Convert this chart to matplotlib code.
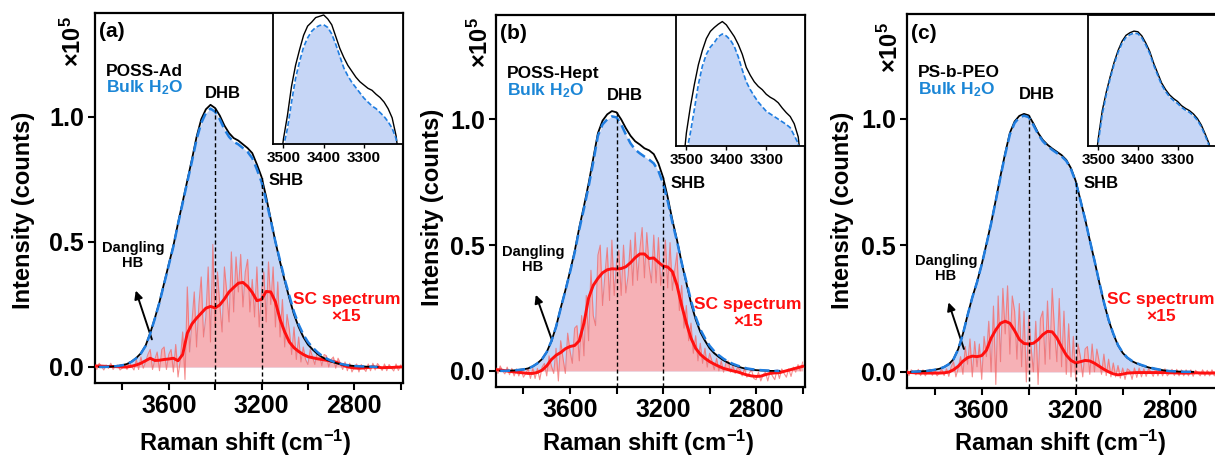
import matplotlib.pyplot as plt
import numpy as np

plt.rcParams["font.family"] = ["Liberation Sans", "DejaVu Sans"]
plt.rcParams["font.weight"] = "bold"
plt.rcParams["axes.labelweight"] = "bold"
plt.rcParams["mathtext.default"] = "regular"

# ---- data ---------------------------------------------------------------
PANEL_TAGS = ["(a)", "(b)", "(c)"]
SAMPLE_NAMES = ["POSS-Ad", "POSS-Hept", "PS-b-PEO"]

# full OH band, sampled every 20 cm-1 from 3900 down to 2700
sample_a = [0.000, 0.000, 0.001, 0.002, 0.004, 0.007, 0.012, 0.022, 0.036, 0.055,
            0.085, 0.135, 0.195, 0.260, 0.335, 0.410, 0.485, 0.575, 0.660, 0.745,
            0.830, 0.920, 0.990, 1.030, 1.048, 1.035, 1.005, 0.965, 0.935, 0.915,
            0.905, 0.890, 0.875, 0.855, 0.810, 0.760, 0.680, 0.590, 0.500, 0.420,
            0.345, 0.275, 0.210, 0.160, 0.120, 0.090, 0.070, 0.053, 0.040, 0.030,
            0.022, 0.016, 0.011, 0.008, 0.006, 0.004, 0.003, 0.002, 0.001, 0.001, 0.000]
bulk_a = [0.000, 0.000, 0.001, 0.002, 0.004, 0.007, 0.012, 0.021, 0.035, 0.054,
          0.084, 0.133, 0.193, 0.258, 0.332, 0.407, 0.482, 0.572, 0.655, 0.740,
          0.822, 0.910, 0.975, 1.015, 1.033, 1.020, 0.990, 0.950, 0.920, 0.900,
          0.890, 0.875, 0.860, 0.835, 0.790, 0.740, 0.665, 0.585, 0.500, 0.425,
          0.350, 0.285, 0.220, 0.170, 0.130, 0.100, 0.078, 0.060, 0.045, 0.034,
          0.025, 0.018, 0.013, 0.009, 0.006, 0.004, 0.003, 0.002, 0.001, 0.001, 0.000]
sample_b = [0.000, 0.000, 0.001, 0.002, 0.004, 0.006, 0.010, 0.018, 0.030, 0.047,
            0.075, 0.118, 0.175, 0.250, 0.320, 0.395, 0.475, 0.570, 0.655, 0.745,
            0.845, 0.945, 0.995, 1.020, 1.033, 1.028, 1.000, 0.965, 0.935, 0.913,
            0.900, 0.885, 0.877, 0.862, 0.825, 0.770, 0.690, 0.600, 0.520, 0.430,
            0.350, 0.270, 0.205, 0.155, 0.120, 0.090, 0.070, 0.055, 0.042, 0.032,
            0.024, 0.018, 0.012, 0.008, 0.005, 0.003, 0.002, 0.001, 0.000, 0.000, 0.000]
bulk_b = [0.000, 0.000, 0.001, 0.002, 0.004, 0.006, 0.010, 0.018, 0.030, 0.047,
          0.075, 0.118, 0.175, 0.248, 0.318, 0.392, 0.470, 0.563, 0.645, 0.733,
          0.830, 0.935, 0.980, 1.000, 1.012, 1.008, 0.980, 0.940, 0.905, 0.880,
          0.865, 0.852, 0.840, 0.825, 0.795, 0.745, 0.675, 0.590, 0.515, 0.430,
          0.355, 0.280, 0.215, 0.165, 0.130, 0.100, 0.078, 0.062, 0.048, 0.037,
          0.028, 0.021, 0.015, 0.010, 0.007, 0.005, 0.003, 0.002, 0.001, 0.000, 0.000]
sample_c = [0.000, 0.001, 0.002, 0.003, 0.005, 0.008, 0.012, 0.019, 0.030, 0.050,
            0.090, 0.150, 0.225, 0.295, 0.355, 0.425, 0.505, 0.588, 0.680, 0.775,
            0.865, 0.945, 0.990, 1.012, 1.020, 1.014, 0.982, 0.945, 0.917, 0.898,
            0.883, 0.870, 0.857, 0.838, 0.805, 0.755, 0.680, 0.605, 0.520, 0.440,
            0.355, 0.275, 0.205, 0.150, 0.105, 0.075, 0.055, 0.042, 0.033, 0.026,
            0.020, 0.015, 0.011, 0.008, 0.005, 0.003, 0.002, 0.001, 0.000, 0.000, 0.000]
bulk_c = [0.000, 0.001, 0.002, 0.003, 0.005, 0.008, 0.012, 0.019, 0.030, 0.050,
          0.089, 0.149, 0.224, 0.294, 0.354, 0.424, 0.503, 0.586, 0.677, 0.771,
          0.860, 0.939, 0.984, 1.006, 1.013, 1.007, 0.976, 0.940, 0.912, 0.893,
          0.878, 0.865, 0.852, 0.834, 0.801, 0.752, 0.678, 0.604, 0.520, 0.440,
          0.356, 0.276, 0.206, 0.151, 0.106, 0.076, 0.056, 0.043, 0.034, 0.027,
          0.021, 0.016, 0.012, 0.008, 0.005, 0.003, 0.002, 0.001, 0.000, 0.000, 0.000]

# smoothed SC spectrum (x15), every 20 cm-1 from 3920 down to 2600
sc_smooth_a = [0.004, 0.004, 0.003, 0.002, 0.002, 0.001, 0.000, 0.000, 0.003, 0.008,
               0.015, 0.025, 0.035, 0.026, 0.027, 0.030, 0.032, 0.035, 0.025, 0.050,
               0.135, 0.172, 0.195, 0.215, 0.235, 0.242, 0.236, 0.248, 0.272, 0.300,
               0.318, 0.335, 0.338, 0.322, 0.298, 0.265, 0.270, 0.302, 0.300, 0.260,
               0.190, 0.140, 0.100, 0.077, 0.062, 0.050, 0.041, 0.037, 0.033, 0.030,
               0.027, 0.023, 0.020, 0.012, 0.004, -0.001, -0.004, -0.005, -0.004, -0.002,
               0.000, -0.001, -0.003, -0.002, -0.002, -0.001, 0.000]
sc_smooth_b = [0.005, 0.004, 0.001, -0.002, -0.004, -0.006, -0.008, -0.010, -0.010, -0.006,
               0.003, 0.020, 0.045, 0.062, 0.073, 0.088, 0.097, 0.101, 0.120, 0.190,
               0.290, 0.340, 0.368, 0.390, 0.402, 0.406, 0.405, 0.407, 0.414, 0.430,
               0.450, 0.465, 0.465, 0.447, 0.449, 0.432, 0.417, 0.413, 0.395, 0.340,
               0.260, 0.190, 0.130, 0.090, 0.066, 0.050, 0.037, 0.027, 0.018, 0.010,
               0.005, 0.000, -0.004, -0.010, -0.016, -0.020, -0.022, -0.021, -0.015, -0.010,
               -0.008, -0.007, -0.002, 0.003, 0.008, 0.013, 0.018]
sc_smooth_c = [-0.003, -0.003, -0.004, -0.005, -0.005, -0.005, -0.005, -0.005, -0.004, -0.001,
               0.008, 0.022, 0.042, 0.056, 0.062, 0.060, 0.064, 0.085, 0.133, 0.166,
               0.192, 0.200, 0.192, 0.163, 0.128, 0.112, 0.110, 0.113, 0.127, 0.147,
               0.160, 0.158, 0.134, 0.098, 0.066, 0.045, 0.035, 0.040, 0.045, 0.043,
               0.034, 0.022, 0.010, 0.000, -0.008, -0.012, -0.009, -0.005, -0.004, -0.003,
               -0.003, -0.003, -0.003, -0.003, -0.003, -0.003, -0.004, -0.004, -0.005, -0.005,
               -0.005, -0.004, -0.004, -0.005, -0.005, -0.005, -0.004]

# raw (noisy) SC spectrum (x15), every 10 cm-1 from 3920 down to 2600
sc_raw_a = [0.010, -0.010, 0.015, 0.002, -0.012, 0.008, -0.006, 0.015, -0.010, 0.004,
            0.008, -0.012, -0.004, 0.012, -0.010, 0.020, 0.002, -0.012, 0.030, -0.010,
            0.040, -0.005, 0.020, 0.050, 0.070, -0.010, 0.030, 0.060, -0.015, 0.070,
            0.080, -0.010, 0.050, 0.070, -0.020, 0.090, -0.040, 0.030, 0.140, -0.050,
            0.320, 0.060, 0.180, 0.300, 0.080, 0.250, 0.360, 0.120, 0.200, 0.400,
            0.100, 0.490, 0.160, 0.380, 0.250, 0.140, 0.400, 0.300, 0.180, 0.460,
            0.220, 0.440, 0.300, 0.450, 0.240, 0.380, 0.430, 0.220, 0.350, 0.200,
            0.400, 0.160, 0.300, 0.380, 0.180, 0.420, 0.250, 0.400, 0.160, 0.340,
            0.120, 0.270, 0.080, 0.210, 0.150, 0.050, 0.160, 0.030, 0.120, 0.020,
            0.080, 0.030, 0.010, 0.070, 0.040, 0.010, 0.060, 0.050, 0.005, 0.050,
            0.045, 0.000, 0.030, 0.040, -0.005, 0.035, 0.015, -0.010, 0.020, -0.015,
            0.015, -0.020, 0.000, 0.012, -0.020, 0.010, -0.005, -0.018, 0.012, -0.015,
            0.015, -0.012, 0.014, 0.002, -0.014, 0.012, -0.015, 0.010, -0.004, -0.016,
            0.012, -0.014, 0.008]
sc_raw_b = [0.015, -0.010, 0.020, 0.000, -0.012, 0.015, -0.015, 0.010, -0.020, 0.008,
            -0.020, 0.005, -0.025, -0.010, 0.008, -0.030, 0.010, -0.030, 0.010, -0.035,
            0.015, 0.030, -0.020, 0.060, 0.020, -0.010, 0.090, -0.040, 0.120, 0.050,
            -0.010, 0.150, 0.080, 0.030, 0.170, 0.180, 0.040, 0.220, 0.060, 0.300,
            0.120, 0.400, 0.220, 0.180, 0.460, 0.500, 0.260, 0.380, 0.490, 0.280,
            0.520, 0.300, 0.430, 0.480, 0.300, 0.500, 0.310, 0.380, 0.520, 0.340,
            0.550, 0.360, 0.480, 0.570, 0.370, 0.550, 0.420, 0.350, 0.540, 0.350,
            0.530, 0.340, 0.420, 0.520, 0.330, 0.510, 0.320, 0.400, 0.470, 0.240,
            0.340, 0.170, 0.260, 0.120, 0.190, 0.070, 0.140, 0.040, 0.110, 0.030,
            0.090, 0.015, 0.070, 0.040, 0.005, 0.050, 0.000, 0.040, -0.005, 0.030,
            0.040, -0.005, 0.020, -0.010, 0.015, 0.005, -0.020, 0.010, -0.025, -0.010,
            0.005, -0.030, -0.035, -0.005, -0.040, -0.015, -0.005, -0.040, -0.002, -0.020,
            -0.035, 0.005, -0.030, 0.008, -0.010, -0.025, 0.008, -0.022, 0.015, -0.005,
            0.025, 0.000, 0.035]
sc_raw_c = [0.010, -0.015, 0.008, 0.000, -0.012, 0.010, -0.015, 0.008, -0.016, 0.002,
            0.010, -0.014, 0.008, -0.016, -0.004, 0.010, -0.015, 0.012, -0.018, 0.020,
            0.040, -0.020, 0.015, 0.060, -0.010, 0.100, 0.030, 0.130, -0.020, 0.120,
            0.020, 0.110, -0.030, 0.140, 0.060, 0.200, 0.000, 0.260, -0.050, 0.300,
            0.040, 0.330, 0.150, 0.340, 0.070, 0.300, 0.240, 0.050, 0.270, 0.020,
            0.240, -0.040, 0.220, 0.100, 0.000, 0.200, -0.050, 0.210, 0.240, 0.030,
            0.280, 0.050, 0.330, 0.160, 0.040, 0.290, 0.020, 0.240, -0.010, 0.190,
            -0.020, 0.140, -0.030, 0.110, 0.060, -0.020, 0.090, 0.100, -0.010, 0.110,
            0.000, 0.090, 0.040, -0.010, 0.070, -0.015, 0.050, -0.020, 0.035, -0.020,
            0.025, -0.025, 0.015, -0.030, 0.012, 0.005, -0.030, 0.015, -0.022, 0.015,
            -0.020, 0.012, -0.018, 0.012, 0.000, -0.018, 0.012, -0.016, 0.010, -0.016,
            0.012, -0.016, -0.004, 0.010, -0.015, 0.010, -0.016, 0.008, -0.016, 0.008,
            -0.016, 0.008, -0.018, 0.006, -0.004, -0.016, 0.008, -0.016, 0.006, -0.016,
            0.008, -0.016, 0.006]

# inset: zoom on the band top, every 10 cm-1 from 3510 down to 3210 (relative units)
inset_sample_a = [-0.200, 0.040, 0.220, 0.440, 0.600, 0.720, 0.830, 0.900, 0.930, 0.965,
                  0.975, 0.985, 0.955, 0.910, 0.820, 0.730, 0.660, 0.600, 0.555, 0.510,
                  0.475, 0.450, 0.425, 0.410, 0.380, 0.355, 0.320, 0.270, 0.200, 0.060, -0.200]
inset_bulk_a = [-0.200, -0.020, 0.120, 0.320, 0.500, 0.630, 0.740, 0.810, 0.860, 0.890,
                0.905, 0.910, 0.890, 0.840, 0.760, 0.670, 0.580, 0.520, 0.470, 0.430,
                0.390, 0.350, 0.320, 0.290, 0.270, 0.240, 0.210, 0.170, 0.120, 0.040, -0.200]
inset_sample_b = [-0.200, 0.100, 0.300, 0.470, 0.620, 0.730, 0.820, 0.875, 0.905, 0.930,
                  0.950, 0.925, 0.880, 0.835, 0.775, 0.700, 0.600, 0.540, 0.490, 0.455,
                  0.430, 0.395, 0.372, 0.355, 0.330, 0.290, 0.255, 0.225, 0.170, 0.070, -0.200]
inset_bulk_b = [-0.200, -0.050, 0.100, 0.280, 0.470, 0.610, 0.700, 0.755, 0.790, 0.835,
                0.855, 0.840, 0.810, 0.760, 0.680, 0.580, 0.490, 0.430, 0.380, 0.335,
                0.300, 0.265, 0.245, 0.225, 0.205, 0.185, 0.165, 0.140, 0.080, 0.020, -0.200]
inset_sample_c = [-0.200, 0.060, 0.270, 0.410, 0.530, 0.640, 0.730, 0.800, 0.845, 0.865,
                  0.877, 0.872, 0.840, 0.785, 0.720, 0.630, 0.555, 0.480, 0.430, 0.390,
                  0.362, 0.340, 0.308, 0.287, 0.270, 0.245, 0.210, 0.160, 0.090, 0.015, -0.200]
inset_bulk_c = [-0.200, 0.030, 0.240, 0.390, 0.515, 0.625, 0.715, 0.785, 0.830, 0.850,
                0.862, 0.857, 0.825, 0.770, 0.705, 0.615, 0.540, 0.465, 0.415, 0.375,
                0.347, 0.325, 0.295, 0.274, 0.257, 0.232, 0.197, 0.147, 0.077, 0.000, -0.200]

SAMPLES = [sample_a, sample_b, sample_c]
BULKS = [bulk_a, bulk_b, bulk_c]
SC_SMOOTH = [sc_smooth_a, sc_smooth_b, sc_smooth_c]
SC_RAW = [sc_raw_a, sc_raw_b, sc_raw_c]
INSET_SAMPLES = [inset_sample_a, inset_sample_b, inset_sample_c]
INSET_BULKS = [inset_bulk_a, inset_bulk_b, inset_bulk_c]

DHB_POSITION = 3400
SHB_POSITION = 3200

# ---- layout (figure fractions, from the 1215 x 457 px reference) ----------
W, H = 1215, 457
MAIN_PX = [(95, 13, 403, 383), (496, 15, 805, 387), (907, 14, 1219, 388)]
INSET_PX = [(273, 13, 403, 144), (676, 15, 805, 146), (1088, 15, 1216, 146)]
SCALE_LABEL_PX = [(73, 41), (480, 42), (890, 47)]
YLABEL_PX = [(24, 210), (433, 207), (843, 210)]
XLABEL_PX = [(245, 443), (648, 443), (1060, 443)]
DANGLING_TEXT = [(3755, 0.444), (3759, 0.444), (3753, 0.41)]
DANGLING_ARROW = [((3669, 0.10), (3746, 0.316)),
                  ((3673, 0.111), (3751, 0.313)),
                  ((3672, 0.08), (3745, 0.285))]
SC_TEXT = [(2834, 0.236), (2834, 0.23), (2838, 0.253)]

BLUE_FILL = "#c6d6f6"
BLUE_LINE = "#1f7de0"
PINK_FILL = "#f6b1b6"
RAW_RED = "#f26868"
SMOOTH_RED = "#ff1010"
LABEL_BLUE = "#1b86d6"

XLIM = (3918, 2590)
YLIM = (-0.064, 1.415)


def to_box(px):
    left, top, right, bottom = px
    return [left / W, (H - bottom) / H, (right - left) / W, (bottom - top) / H]


def to_axes(ax_px, x, y):
    left, top, right, bottom = ax_px
    return (x - left) / (right - left), (bottom - y) / (bottom - top)


def draw_panel(fig, k):
    wn_curve = 3900 - 20 * np.arange(len(SAMPLES[k]))
    wn_smooth = 3920 - 20 * np.arange(len(SC_SMOOTH[k]))
    wn_raw = 3920 - 10 * np.arange(len(SC_RAW[k]))
    sample = np.array(SAMPLES[k])
    bulk = np.array(BULKS[k])
    raw = np.array(SC_RAW[k])

    ax = fig.add_axes(to_box(MAIN_PX[k]))

    ax.fill_between(wn_curve, 0, bulk, color=BLUE_FILL, lw=0, zorder=1)
    ax.fill_between(wn_raw, 0, np.maximum(raw, 0), color=PINK_FILL,
                    lw=0, zorder=2)
    ax.plot(wn_raw, raw, color=RAW_RED, lw=0.8, alpha=0.75, zorder=3)
    ax.plot(wn_smooth, SC_SMOOTH[k], color=SMOOTH_RED, lw=2.1, zorder=4)
    ax.plot(wn_curve, sample, color="black", lw=1.3, zorder=5)
    ax.plot(wn_curve, bulk, color=BLUE_LINE, lw=1.8,
            dashes=(4, 2), zorder=6)

    for pos in (DHB_POSITION, SHB_POSITION):
        top = sample[wn_curve == pos][0]
        ax.vlines(pos, YLIM[0], top, colors="black", lw=1.0,
                  linestyles=(0, (3, 2)), zorder=7)

    ax.set_xlim(*XLIM)
    ax.set_ylim(*YLIM)
    ax.set_xticks([3800, 3600, 3400, 3200, 3000, 2800, 2600])
    ax.set_xticklabels(["", "3600", "", "3200", "", "2800", ""])
    ax.set_yticks([0.0, 0.5, 1.0])
    ax.set_yticklabels(["0.0", "0.5", "1.0"])
    ax.tick_params(direction="out", length=5, width=1.5,
                   labelsize=18, pad=3)
    for spine in ax.spines.values():
        spine.set_linewidth(1.6)

    ax.set_xlabel(r"Raman shift (cm$^{-1}$)", fontsize=17, va="center")
    ax.xaxis.set_label_coords(*to_axes(MAIN_PX[k], *XLABEL_PX[k]))
    ax.set_ylabel("Intensity (counts)", fontsize=17, va="center")
    ax.yaxis.set_label_coords(*to_axes(MAIN_PX[k], *YLABEL_PX[k]))

    sx, sy = SCALE_LABEL_PX[k]
    fig.text(sx / W, 1 - sy / H, "×10$^{5}$", rotation=90,
             ha="center", va="center", fontsize=17)

    ax.text(0.012, 0.949, PANEL_TAGS[k], transform=ax.transAxes,
            ha="left", va="center", fontsize=15)
    ax.text(0.036, 0.843, SAMPLE_NAMES[k], transform=ax.transAxes,
            ha="left", va="center", fontsize=12.5)
    ax.text(0.036, 0.797, r"Bulk H$_2$O", transform=ax.transAxes,
            ha="left", va="center", fontsize=12.5, color=LABEL_BLUE)

    ax.text(3365, 1.095, "DHB", ha="center", va="center", fontsize=12)
    ax.text(3168, 0.745, "SHB", ha="left", va="center", fontsize=12)
    tx, ty = DANGLING_TEXT[k]
    ax.text(tx, ty, "Dangling\nHB", ha="center", va="center",
            fontsize=10.5, linespacing=1.1)
    tail, head = DANGLING_ARROW[k]
    ax.annotate("", xy=head, xytext=tail,
                arrowprops=dict(arrowstyle="-|>", color="black", lw=1.4,
                                mutation_scale=12))
    cx, cy = SC_TEXT[k]
    ax.text(cx, cy, "SC spectrum\n×15", ha="center", va="center",
            fontsize=12.5, color=SMOOTH_RED, linespacing=1.2)

    # inset
    wn_inset = 3510 - 10 * np.arange(len(INSET_SAMPLES[k]))
    axi = fig.add_axes(to_box(INSET_PX[k]))
    axi.fill_between(wn_inset, -0.2, INSET_BULKS[k], color=BLUE_FILL, lw=0)
    axi.plot(wn_inset, INSET_SAMPLES[k], color="black", lw=1.0)
    axi.plot(wn_inset, INSET_BULKS[k], color=BLUE_LINE, lw=1.2, dashes=(3, 1.5))
    axi.set_xlim(3526, 3203)
    axi.set_ylim(0, 1.0)
    axi.set_xticks([3500, 3400, 3300])
    axi.set_yticks([])
    axi.tick_params(direction="out", length=3, width=1.0,
                    labelsize=11, pad=2)
    for spine in axi.spines.values():
        spine.set_linewidth(1.3)


fig = plt.figure(figsize=(W / 100, H / 100), dpi=100)
for k in range(3):
    draw_panel(fig, k)

fig.savefig("out.png", dpi=100)
